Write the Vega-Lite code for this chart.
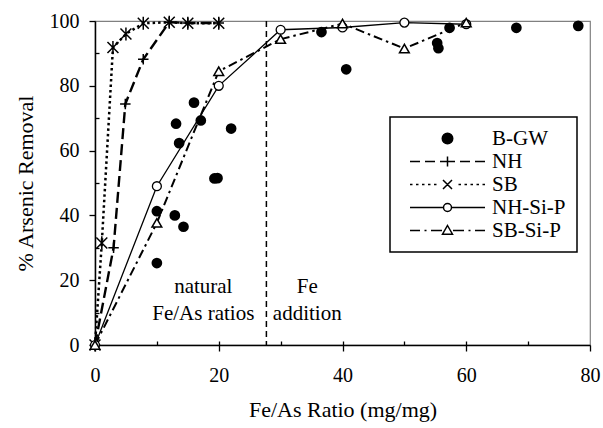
{
  "$schema": "https://vega.github.io/schema/vega-lite/v6.json",
  "autosize": "none",
  "padding": {"left": 95, "top": 21, "right": 13, "bottom": 83},
  "width": 495,
  "height": 324,
  "background": "white",
  "config": {
    "font": "Liberation Serif",
    "view": {"stroke": "#808080", "strokeWidth": 1.2},
    "axis": {
      "grid": false,
      "domainColor": "black",
      "domainWidth": 1.5,
      "tickColor": "black",
      "tickWidth": 1.3,
      "labelColor": "black",
      "titleColor": "black",
      "labelFont": "Liberation Serif",
      "titleFont": "Liberation Serif",
      "labelFontSize": 20,
      "titleFontSize": 22,
      "titleFontWeight": "normal",
      "labelFlush": false,
      "labelOverlap": false
    },
    "legend": {
      "orient": "none",
      "legendX": 295,
      "legendY": 96,
      "padding": 11,
      "strokeColor": "black",
      "strokeWidth": 1.5,
      "fillColor": "white",
      "symbolSize": 100,
      "symbolStrokeColor": "black",
      "symbolStrokeWidth": 1.5,
      "symbolOpacity": 1,
      "symbolOffset": 36,
      "labelOffset": 34,
      "labelFont": "Liberation Serif",
      "labelFontSize": 21,
      "labelColor": "black",
      "rowPadding": 1
    }
  },
  "datasets": {
    "series": [
      {"series": "B-GW", "ratio": 10, "removal": 25.3},
      {"series": "B-GW", "ratio": 10, "removal": 41.3},
      {"series": "B-GW", "ratio": 12.9, "removal": 40.0},
      {"series": "B-GW", "ratio": 14.3, "removal": 36.5},
      {"series": "B-GW", "ratio": 13.1, "removal": 68.3},
      {"series": "B-GW", "ratio": 13.6, "removal": 62.3},
      {"series": "B-GW", "ratio": 16.0, "removal": 74.8},
      {"series": "B-GW", "ratio": 17.1, "removal": 69.3},
      {"series": "B-GW", "ratio": 19.3, "removal": 51.4},
      {"series": "B-GW", "ratio": 19.8, "removal": 51.5},
      {"series": "B-GW", "ratio": 22.0, "removal": 66.8},
      {"series": "B-GW", "ratio": 36.6, "removal": 96.6},
      {"series": "B-GW", "ratio": 40.6, "removal": 85.1},
      {"series": "B-GW", "ratio": 55.3, "removal": 93.2},
      {"series": "B-GW", "ratio": 55.5, "removal": 91.6},
      {"series": "B-GW", "ratio": 57.3, "removal": 97.9},
      {"series": "B-GW", "ratio": 68.1, "removal": 97.9},
      {"series": "B-GW", "ratio": 78.1, "removal": 98.5},
      {"series": "NH", "ratio": 0, "removal": 0},
      {"series": "NH", "ratio": 3.0, "removal": 30.0},
      {"series": "NH", "ratio": 4.9, "removal": 74.4},
      {"series": "NH", "ratio": 7.8, "removal": 88.2},
      {"series": "NH", "ratio": 12, "removal": 99.6},
      {"series": "NH", "ratio": 15, "removal": 99.4},
      {"series": "NH", "ratio": 20, "removal": 99.4},
      {"series": "SB", "ratio": 0, "removal": 0},
      {"series": "SB", "ratio": 1.1, "removal": 31.5},
      {"series": "SB", "ratio": 2.9, "removal": 91.8},
      {"series": "SB", "ratio": 5.0, "removal": 96.0},
      {"series": "SB", "ratio": 7.8, "removal": 99.3},
      {"series": "SB", "ratio": 12, "removal": 99.6},
      {"series": "SB", "ratio": 15, "removal": 99.3},
      {"series": "SB", "ratio": 20, "removal": 99.3},
      {"series": "NH-Si-P", "ratio": 0, "removal": 0},
      {"series": "NH-Si-P", "ratio": 10, "removal": 49.0},
      {"series": "NH-Si-P", "ratio": 20, "removal": 80.0},
      {"series": "NH-Si-P", "ratio": 30, "removal": 97.3},
      {"series": "NH-Si-P", "ratio": 40, "removal": 98.0},
      {"series": "NH-Si-P", "ratio": 50, "removal": 99.5},
      {"series": "NH-Si-P", "ratio": 60, "removal": 99.0},
      {"series": "SB-Si-P", "ratio": 0, "removal": 0},
      {"series": "SB-Si-P", "ratio": 10, "removal": 37.7},
      {"series": "SB-Si-P", "ratio": 20, "removal": 84.5},
      {"series": "SB-Si-P", "ratio": 30, "removal": 94.4},
      {"series": "SB-Si-P", "ratio": 40, "removal": 99.2},
      {"series": "SB-Si-P", "ratio": 50, "removal": 91.5},
      {"series": "SB-Si-P", "ratio": 60, "removal": 99.5}
    ],
    "divider": [{"ratio": 27.7}],
    "notes": [
      {"ratio": 17.5, "removal": 17.9, "note": "natural"},
      {"ratio": 17.5, "removal": 9.7, "note": "Fe/As ratios"},
      {"ratio": 34.3, "removal": 17.9, "note": "Fe"},
      {"ratio": 34.3, "removal": 9.7, "note": "addition"}
    ]
  },
  "resolve": {"axis": {"x": "independent", "y": "independent"}},
  "layer": [
    {
      "data": {"name": "divider"},
      "mark": {"type": "rule", "color": "black", "strokeWidth": 1.5, "strokeDash": [6, 4]},
      "encoding": {
        "x": {"field": "ratio", "type": "quantitative", "scale": {"domain": [0, 80], "nice": false, "zero": false}, "axis": null}
      }
    },
    {
      "data": {"name": "series"},
      "transform": [{"filter": "datum.series === 'NH-Si-P'"}],
      "mark": {"type": "line", "color": "black", "strokeWidth": 1.3},
      "encoding": {
        "x": {"field": "ratio", "type": "quantitative", "scale": {"domain": [0, 80], "nice": false, "zero": false},
          "axis": {"orient": "bottom", "values": [0, 20, 40, 60, 80], "tickSize": 6, "labelPadding": 14, "title": "Fe/As Ratio (mg/mg)", "titlePadding": 14}},
        "y": {"field": "removal", "type": "quantitative", "scale": {"domain": [0, 100], "nice": false},
          "axis": {"orient": "left", "values": [0, 20, 40, 60, 80, 100], "tickSize": 6, "labelPadding": 10, "title": "% Arsenic Removal", "titlePadding": 12}}
      }
    },
    {
      "data": {"name": "series"},
      "transform": [{"filter": "datum.series === 'SB-Si-P'"}],
      "mark": {"type": "line", "color": "black", "strokeWidth": 2, "strokeDash": [9, 4, 2.5, 4]},
      "encoding": {
        "x": {"field": "ratio", "type": "quantitative", "scale": {"domain": [0, 80], "nice": false, "zero": false},
          "axis": {"orient": "bottom", "values": [10, 20, 30, 40, 50, 60, 70], "tickSize": -4, "labels": false, "domain": false, "title": null}},
        "y": {"field": "removal", "type": "quantitative", "scale": {"domain": [0, 100], "nice": false},
          "axis": {"orient": "left", "values": [10, 30, 50, 70, 90], "tickSize": -4, "labels": false, "domain": false, "title": null}}
      }
    },
    {
      "data": {"name": "series"},
      "transform": [{"filter": "datum.series === 'NH'"}],
      "mark": {"type": "line", "color": "black", "strokeWidth": 2.4, "strokeDash": [11, 5]},
      "encoding": {
        "x": {"field": "ratio", "type": "quantitative", "scale": {"domain": [0, 80], "nice": false, "zero": false}, "axis": null},
        "y": {"field": "removal", "type": "quantitative", "scale": {"domain": [0, 100], "nice": false}, "axis": null}
      }
    },
    {
      "data": {"name": "series"},
      "transform": [{"filter": "datum.series === 'SB'"}],
      "mark": {"type": "line", "color": "black", "strokeWidth": 2.5, "strokeDash": [2.5, 3]},
      "encoding": {
        "x": {"field": "ratio", "type": "quantitative", "scale": {"domain": [0, 80], "nice": false, "zero": false}, "axis": null},
        "y": {"field": "removal", "type": "quantitative", "scale": {"domain": [0, 100], "nice": false}, "axis": null}
      }
    },
    {
      "data": {"name": "notes"},
      "mark": {"type": "text", "font": "Liberation Serif", "fontSize": 21, "color": "black", "align": "center", "baseline": "middle"},
      "encoding": {
        "x": {"field": "ratio", "type": "quantitative", "scale": {"domain": [0, 80], "nice": false, "zero": false}, "axis": null},
        "y": {"field": "removal", "type": "quantitative", "scale": {"domain": [0, 100], "nice": false}, "axis": null},
        "text": {"field": "note"}
      }
    },
    {
      "data": {"name": "series"},
      "transform": [{"filter": "datum.series === 'NH'"}],
      "mark": {"type": "point", "shape": "M-1,0H1M0,-1V1", "filled": false, "stroke": "black", "strokeWidth": 1.5, "size": 110, "opacity": 1},
      "encoding": {
        "x": {"field": "ratio", "type": "quantitative", "scale": {"domain": [0, 80], "nice": false, "zero": false}, "axis": null},
        "y": {"field": "removal", "type": "quantitative", "scale": {"domain": [0, 100], "nice": false}, "axis": null}
      }
    },
    {
      "data": {"name": "series"},
      "transform": [{"filter": "datum.series === 'SB'"}],
      "mark": {"type": "point", "shape": "M-1,-1L1,1M-1,1L1,-1M0,-1.2V1.2", "filled": false, "stroke": "black", "strokeWidth": 1.5, "size": 120, "opacity": 1},
      "encoding": {
        "x": {"field": "ratio", "type": "quantitative", "scale": {"domain": [0, 80], "nice": false, "zero": false}, "axis": null},
        "y": {"field": "removal", "type": "quantitative", "scale": {"domain": [0, 100], "nice": false}, "axis": null}
      }
    },
    {
      "data": {"name": "series"},
      "transform": [{"filter": "datum.series === 'NH-Si-P'"}],
      "mark": {"type": "point", "shape": "circle", "filled": true, "fill": "white", "stroke": "black", "strokeWidth": 1.3, "size": 80, "opacity": 1},
      "encoding": {
        "x": {"field": "ratio", "type": "quantitative", "scale": {"domain": [0, 80], "nice": false, "zero": false}, "axis": null},
        "y": {"field": "removal", "type": "quantitative", "scale": {"domain": [0, 100], "nice": false}, "axis": null}
      }
    },
    {
      "data": {"name": "series"},
      "transform": [{"filter": "datum.series === 'SB-Si-P'"}],
      "mark": {"type": "point", "shape": "triangle-up", "filled": true, "fill": "white", "stroke": "black", "strokeWidth": 1.5, "size": 95, "opacity": 1},
      "encoding": {
        "x": {"field": "ratio", "type": "quantitative", "scale": {"domain": [0, 80], "nice": false, "zero": false}, "axis": null},
        "y": {"field": "removal", "type": "quantitative", "scale": {"domain": [0, 100], "nice": false}, "axis": null}
      }
    },
    {
      "data": {"name": "series"},
      "transform": [{"filter": "datum.series === 'B-GW'"}],
      "mark": {"type": "point", "shape": "circle", "filled": true, "fill": "black", "stroke": "black", "strokeWidth": 0, "size": 115, "opacity": 1},
      "encoding": {
        "x": {"field": "ratio", "type": "quantitative", "scale": {"domain": [0, 80], "nice": false, "zero": false}, "axis": null},
        "y": {"field": "removal", "type": "quantitative", "scale": {"domain": [0, 100], "nice": false}, "axis": null}
      }
    },
    {
      "data": {"name": "series"},
      "transform": [{"filter": "false"}],
      "mark": {"type": "point", "filled": true, "stroke": "black", "strokeWidth": 1.5},
      "encoding": {
        "x": {"field": "ratio", "type": "quantitative", "scale": {"domain": [0, 80], "nice": false, "zero": false}, "axis": null},
        "y": {"field": "removal", "type": "quantitative", "scale": {"domain": [0, 100], "nice": false}, "axis": null},
        "shape": {
          "field": "series", "type": "nominal",
          "scale": {
            "domain": ["B-GW", "NH", "SB", "NH-Si-P", "SB-Si-P"],
            "range": [
              "M-1.05,0A1.05,1.05 0 1,1 1.05,0A1.05,1.05 0 1,1 -1.05,0Z",
              "M-7.5,0H-5.5M-4.5,0H-2.5M-1.5,0H1.5M2.5,0H4.5M5.5,0H7.5M0,-1V1",
              "M-7.5,0H-7M-6.3,0H-5.8M-5.1,0H-4.6M-3.9,0H-3.4M-2.7,0H-2.2M2.2,0H2.7M3.4,0H3.9M4.6,0H5.1M5.8,0H6.3M7,0H7.5M-0.9,-0.9L0.9,0.9M-0.9,0.9L0.9,-0.9",
              "M-7.5,0H-0.8M0.8,0H7.5M-0.8,0A0.8,0.8 0 1,1 0.8,0A0.8,0.8 0 1,1 -0.8,0Z",
              "M-7.5,0H-5.5M-4.6,0H-4.2M-3.3,0H-1.1M1.1,0H3.3M4.2,0H4.6M5.5,0H7.5M0,-1L1,0.75L-1,0.75Z"
            ]
          },
          "legend": {
            "title": null,
            "encode": {"symbols": {"update": {"stroke": {"value": "black"}, "strokeWidth": {"value": 1.5}, "opacity": {"value": 1}}}}
          }
        },
        "fill": {
          "field": "series", "type": "nominal",
          "scale": {"domain": ["B-GW", "NH", "SB", "NH-Si-P", "SB-Si-P"], "range": ["black", "white", "white", "white", "white"]},
          "legend": {
            "title": null,
            "encode": {"symbols": {"update": {"stroke": {"value": "black"}, "strokeWidth": {"value": 1.5}, "opacity": {"value": 1}}}}
          }
        }
      }
    }
  ]
}
